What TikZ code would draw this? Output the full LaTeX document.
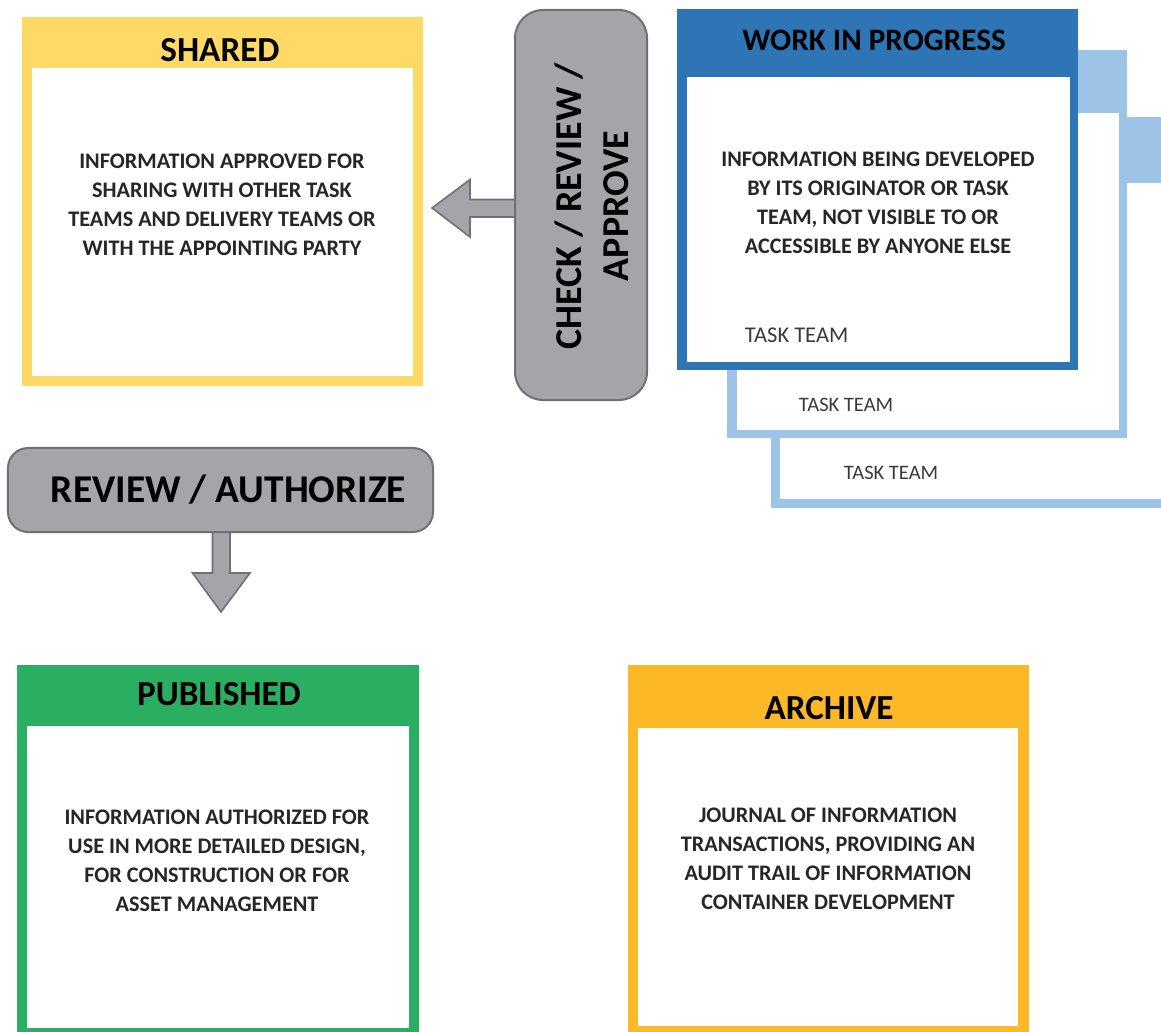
\documentclass[tikz,border=0pt]{standalone}
\usepackage{fontspec}
\setmainfont{Carlito}
\usetikzlibrary{calc}

\definecolor{sharedyellow}{HTML}{FFD966}
\definecolor{wipblue}{HTML}{2E75B6}
\definecolor{teamblue}{HTML}{9DC3E6}
\definecolor{pubgreen}{HTML}{29AE62}
\definecolor{archorange}{HTML}{FDB827}
\definecolor{gatefill}{HTML}{A5A5A9}
\definecolor{gateline}{HTML}{707074}
\definecolor{bodygray}{HTML}{262626}
\definecolor{teamgray}{HTML}{3A3A3A}

\tikzset{
  bodytext/.style={align=center, text=bodygray, font=\fontsize{15.8}{20.6}\selectfont\bfseries},
  headtext/.style={text=black, font=\fontsize{25}{29}\selectfont\bfseries},
  teamtext/.style={anchor=west, text=teamgray, font=\fontsize{14.6}{17}\selectfont},
  gate/.style={draw=gateline, fill=gatefill, line width=0.5mm, text=black, align=center, inner sep=0pt},
  blockarrow/.style={draw=gateline, fill=gatefill, line width=0.4mm, line join=miter},
}

\begin{document}
\begin{tikzpicture}[x=0.25mm,y=-0.25mm]
\useasboundingbox (0,0) rectangle (1161,1032);
\clip (0,0) rectangle (1161,1032);

% work in progress, three task teams stacked
\fill[teamblue] (771,117) rectangle (1171,508);
\fill[white] (780,183) rectangle (1162,499);
\fill[teamblue] (727,50) rectangle (1127,438);
\fill[white] (737,113) rectangle (1119,430);
\fill[wipblue] (677,9) rectangle (1078,370);
\fill[white] (687,77) rectangle (1070,362);
\node[headtext, font=\fontsize{22.2}{26}\selectfont\bfseries] (wiptitle) at (874,40) {WORK IN PROGRESS};
\node[bodytext] (wiptext) at (878,203) {INFORMATION BEING DEVELOPED\\BY ITS ORIGINATOR OR TASK\\TEAM, NOT VISIBLE TO OR\\ACCESSIBLE BY ANYONE ELSE};
\node[teamtext, font=\fontsize{16}{18}\selectfont] (teamA) at (740,335) {TASK TEAM};
\node[teamtext] (teamB) at (794,405) {TASK TEAM};
\node[teamtext] (teamC) at (839,473) {TASK TEAM};

% shared
\fill[sharedyellow] (22,17) rectangle (423,386);
\fill[white] (32,68) rectangle (413,376);
\node[headtext] (sharedtitle) at (220,50) {SHARED};
\node[bodytext] (sharedtext) at (222,205) {INFORMATION APPROVED FOR\\SHARING WITH OTHER TASK\\TEAMS AND DELIVERY TEAMS OR\\WITH THE APPOINTING PARTY};

% published
\fill[pubgreen] (17,665) rectangle (419,1040);
\fill[white] (27,726) rectangle (409,1028);
\node[headtext] (pubtitle) at (219,694) {PUBLISHED};
\node[bodytext] (pubtext) at (217,861) {INFORMATION AUTHORIZED FOR\\USE IN MORE DETAILED DESIGN,\\FOR CONSTRUCTION OR FOR\\ASSET MANAGEMENT};

% archive
\fill[archorange] (628,665) rectangle (1029,1040);
\fill[white] (638,728) rectangle (1018,1026);
\node[headtext] (archtitle) at (829,708) {ARCHIVE};
\node[bodytext] (archtext) at (828,859) {JOURNAL OF INFORMATION\\TRANSACTIONS, PROVIDING AN\\AUDIT TRAIL OF INFORMATION\\CONTAINER DEVELOPMENT};

% gates and arrows
\coordinate (sharedtip) at (432,208);
\coordinate (pubtip) at (221,612);
\draw[blockarrow] (522,199.5) -- (470,199.5) -- (470,179.5) -- (sharedtip) -- (470,237) -- (470,217) -- (522,217);
\node[gate, minimum width=33mm, minimum height=97.5mm, rounded corners=7mm] (check) at (581,205) {};
\node[rotate=90, align=center, text=black, font=\fontsize{27}{33.5}\selectfont\bfseries] (checktext) at (592,206) {CHECK / REVIEW /\\APPROVE};
\draw[blockarrow] ($(pubtip)+(-8.5,-90)$) -- ++(0,51) -- ++(-20,0) -- (pubtip) -- ++(29,-39) -- ++(-20,0) -- ++(0,-51);
\node[gate, minimum width=106.25mm, minimum height=21mm, rounded corners=5mm,
  font=\fontsize{28}{32}\selectfont\bfseries] (review) at (220.5,490) {\hspace*{4mm}REVIEW / AUTHORIZE};
\end{tikzpicture}
\end{document}
